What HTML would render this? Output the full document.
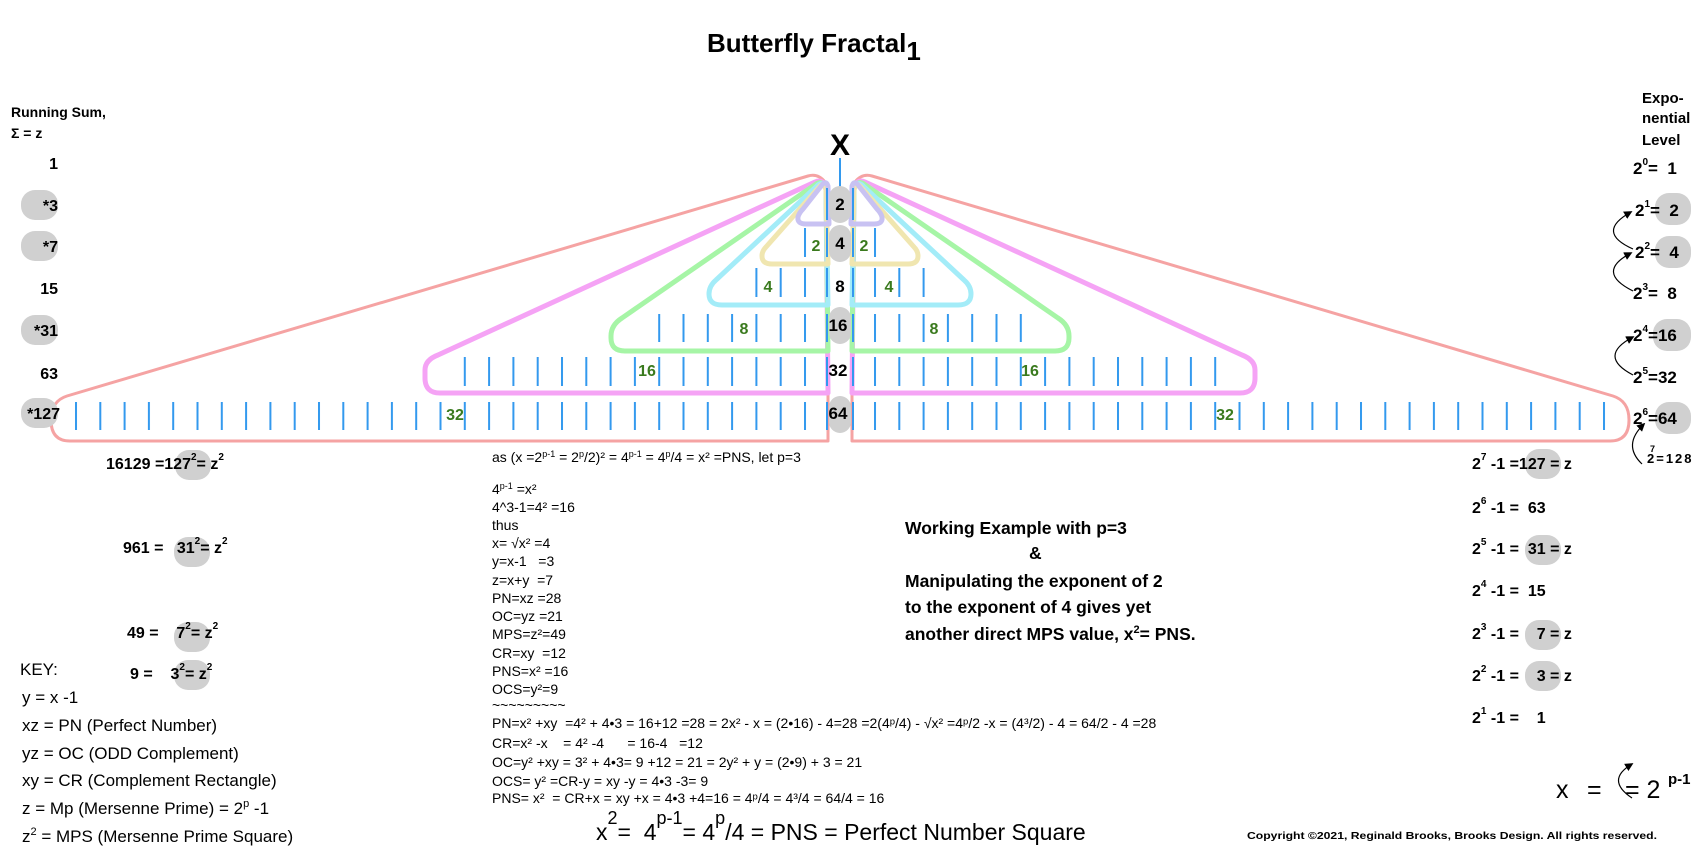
<!DOCTYPE html>
<html><head><meta charset="utf-8"><style>
html,body{margin:0;padding:0;background:#fff;}
body{width:1700px;height:850px;overflow:hidden;position:relative;}
svg{position:absolute;left:0;top:0;}
text{font-family:"Liberation Sans",sans-serif;white-space:pre;}
.b{font-weight:bold;}
</style></head><body>
<svg width="1700" height="850" viewBox="0 0 1700 850" xmlns="http://www.w3.org/2000/svg" xml:space="preserve">
<defs>
<pattern id="tl" patternUnits="userSpaceOnUse" x="803.5" y="0" width="24.3" height="850"><line x1="1.5" y1="0" x2="1.5" y2="850" stroke="#3399ee" stroke-width="2"/></pattern>
<pattern id="tr" patternUnits="userSpaceOnUse" x="873.5" y="0" width="24.3" height="850"><line x1="1.5" y1="0" x2="1.5" y2="850" stroke="#3399ee" stroke-width="2"/></pattern>
<marker id="ah" viewBox="0 0 10 10" refX="8" refY="5" markerWidth="7" markerHeight="7" orient="auto"><path d="M0,0 L10,5 L0,10 Z" fill="#000"/></marker>
</defs>

<text x="707" y="52" class="b" font-size="26">Butterfly Fractal<tspan dy="8" font-size="26">1</tspan></text>

<g fill="none" stroke-linejoin="round">
<path d="M828,441 L70,441 Q51,441 51,420 Q51,401 67,396 L808,176 Q818,173 825,182 L828,190 Z" stroke="#f5a3a3" stroke-width="3"/>
<path d="M828,393 L440,393 Q425,393 425,378 L425,370 Q425,360 438,355 L815,182 Q822,179 826,186 Z" stroke="#f5a3f5" stroke-width="5"/>
<path d="M828,351 L625,351 Q611,351 611,338 L611,336 Q611,325 622,318 L816,184 Q822,180 826,188 Z" stroke="#a6f5a6" stroke-width="5"/>
<path d="M828,305 L722,305 Q709,305 709,294 Q709,286 716,280 L818,185 Q823,181 826,188 Z" stroke="#a3ecf8" stroke-width="5"/>
<path d="M828,264 L772,264 Q762,264 762,256 Q762,251 766,247 L820,186 Q824,182 826,190 Z" stroke="#f0e6b0" stroke-width="5"/>
<path d="M829,224 L806,224 Q797,224 798,217 Q799,213 803,209 L822,185 Q826,180 828,186 Z" stroke="#c8c2f2" stroke-width="5"/>
</g>
<g fill="none" stroke-linejoin="round" transform="translate(1680,0) scale(-1,1)">
<path d="M828,441 L70,441 Q51,441 51,420 Q51,401 67,396 L808,176 Q818,173 825,182 L828,190 Z" stroke="#f5a3a3" stroke-width="3"/>
<path d="M828,393 L440,393 Q425,393 425,378 L425,370 Q425,360 438,355 L815,182 Q822,179 826,186 Z" stroke="#f5a3f5" stroke-width="5"/>
<path d="M828,351 L625,351 Q611,351 611,338 L611,336 Q611,325 622,318 L816,184 Q822,180 826,188 Z" stroke="#a6f5a6" stroke-width="5"/>
<path d="M828,305 L722,305 Q709,305 709,294 Q709,286 716,280 L818,185 Q823,181 826,188 Z" stroke="#a3ecf8" stroke-width="5"/>
<path d="M828,264 L772,264 Q762,264 762,256 Q762,251 766,247 L820,186 Q824,182 826,190 Z" stroke="#f0e6b0" stroke-width="5"/>
<path d="M829,224 L806,224 Q797,224 798,217 Q799,213 803,209 L822,185 Q826,180 828,186 Z" stroke="#c8c2f2" stroke-width="5"/>
</g>

<rect x="74" y="402" width="734" height="28" fill="url(#tl)"/>
<rect x="873" y="402" width="733" height="28" fill="url(#tr)"/>
<rect x="463" y="357" width="345" height="29" fill="url(#tl)"/>
<rect x="873" y="357" width="344" height="29" fill="url(#tr)"/>
<rect x="657" y="314" width="151" height="28" fill="url(#tl)"/>
<rect x="873" y="314" width="150" height="28" fill="url(#tr)"/>
<rect x="754" y="268" width="54" height="29" fill="url(#tl)"/>
<rect x="873" y="268" width="53" height="29" fill="url(#tr)"/>
<rect x="803" y="228" width="5" height="29" fill="url(#tl)"/>
<rect x="873" y="228" width="5" height="29" fill="url(#tr)"/>
<g stroke="#3399ee" stroke-width="2">
<line x1="827" y1="188" x2="827" y2="220"/><line x1="853" y1="188" x2="853" y2="220"/>
<line x1="827" y1="228" x2="827" y2="257"/><line x1="853" y1="228" x2="853" y2="257"/>
<line x1="827" y1="268" x2="827" y2="297"/><line x1="853" y1="268" x2="853" y2="297"/>
<line x1="827" y1="314" x2="827" y2="342"/><line x1="853" y1="314" x2="853" y2="342"/>
<line x1="827" y1="357" x2="827" y2="386"/><line x1="853" y1="357" x2="853" y2="386"/>
<line x1="827" y1="402" x2="827" y2="430"/><line x1="853" y1="402" x2="853" y2="430"/>
<line x1="840" y1="158" x2="840" y2="187"/>
</g>

<text x="840" y="155" class="b" font-size="30" text-anchor="middle">X</text>
<g fill="#d0d0d0">
<rect x="829" y="186" width="22" height="37" rx="11"/>
<rect x="829" y="225" width="22" height="37" rx="11"/>
<rect x="829" y="307" width="22" height="37" rx="11"/>
<rect x="829" y="396" width="22" height="37" rx="11"/>
</g>
<g class="b" font-size="17" text-anchor="middle" fill="#000">
<text x="840" y="210">2</text><text x="840" y="249">4</text><text x="840" y="292">8</text>
<text x="838" y="331">16</text><text x="838" y="376">32</text><text x="838" y="419">64</text>
</g>

<g class="b" font-size="16" fill="#3a7a1e" text-anchor="middle">
<text x="816" y="251">2</text><text x="864" y="251">2</text>
<text x="768" y="292">4</text><text x="889" y="292">4</text>
<text x="744" y="334">8</text><text x="934" y="334">8</text>
<text x="647" y="376">16</text><text x="1030" y="376">16</text>
<text x="455" y="420">32</text><text x="1225" y="420">32</text>
</g>

<text x="11" y="117" class="b" font-size="14">Running Sum,</text>
<text x="11" y="138" class="b" font-size="14">Σ = z</text>
<g fill="#d0d0d0">
<rect x="21" y="190" width="37" height="30" rx="14"/>
<rect x="21" y="231" width="37" height="30" rx="14"/>
<rect x="21" y="315" width="37" height="30" rx="14"/>
<rect x="21" y="398" width="37" height="30" rx="14"/>
</g>
<g class="b" font-size="16" text-anchor="end">
<text x="58" y="169">1</text><text x="58" y="211">*3</text><text x="58" y="252">*7</text>
<text x="58" y="294">15</text><text x="58" y="336">*31</text><text x="58" y="379">63</text>
<text x="60" y="419">*127</text>
</g>

<g fill="#d0d0d0">
<rect x="175" y="450" width="36" height="30" rx="14"/>
<rect x="174" y="537" width="36" height="30" rx="14"/>
<rect x="174" y="622" width="36" height="30" rx="14"/>
<rect x="174" y="660" width="36" height="30" rx="14"/>
</g>
<g class="b" font-size="16">
<text x="106" y="469">16129 =127<tspan dy="-9" font-size="10">2</tspan><tspan dy="9">= z</tspan><tspan dy="-9" font-size="10">2</tspan></text>
<text x="123" y="553">961 =   31<tspan dy="-9" font-size="10">2</tspan><tspan dy="9">= z</tspan><tspan dy="-9" font-size="10">2</tspan></text>
<text x="127" y="638">49 =    7<tspan dy="-9" font-size="10">2</tspan><tspan dy="9">= z</tspan><tspan dy="-9" font-size="10">2</tspan></text>
<text x="130" y="679">9 =    3<tspan dy="-9" font-size="10">2</tspan><tspan dy="9">= z</tspan><tspan dy="-9" font-size="10">2</tspan></text>
</g>

<g font-size="17">
<text x="20" y="675">KEY:</text>
<text x="22" y="703">y = x -1</text>
<text x="22" y="731">xz = PN (Perfect Number)</text>
<text x="22" y="759">yz = OC (ODD Complement)</text>
<text x="22" y="786">xy = CR (Complement Rectangle)</text>
<text x="22" y="814">z = Mp (Mersenne Prime) = 2<tspan dy="-7" font-size="11">p</tspan><tspan dy="7"> -1</tspan></text>
<text x="22" y="842">z<tspan dy="-7" font-size="11">2</tspan><tspan dy="7"> = MPS (Mersenne Prime Square)</tspan></text>
</g>

<g font-size="14">
<text x="492" y="462">as (x =2<tspan dy="-5" font-size="9">p-1</tspan><tspan dy="5"> = 2</tspan><tspan dy="-5" font-size="9">p</tspan><tspan dy="5">/2)² = 4</tspan><tspan dy="-5" font-size="9">p-1</tspan><tspan dy="5"> = 4</tspan><tspan dy="-5" font-size="9">p</tspan><tspan dy="5">/4 = x² =PNS, let p=3</tspan></text>
<text x="492" y="494">4<tspan dy="-5" font-size="9">p-1</tspan><tspan dy="5"> =x²</tspan></text>
<text x="492" y="512">4^3-1=4² =16</text>
<text x="492" y="530">thus</text>
<text x="492" y="548">x= √x² =4</text>
<text x="492" y="566">y=x-1   =3</text>
<text x="492" y="585">z=x+y  =7</text>
<text x="492" y="603">PN=xz =28</text>
<text x="492" y="621">OC=yz =21</text>
<text x="492" y="639">MPS=z²=49</text>
<text x="492" y="658">CR=xy  =12</text>
<text x="492" y="676">PNS=x² =16</text>
<text x="492" y="694">OCS=y²=9</text>
<text x="492" y="710">~~~~~~~~~</text>
<text x="492" y="728">PN=x² +xy  =4² + 4•3 = 16+12 =28 = 2x² - x = (2•16) - 4=28 =2(4ᵖ/4) - √x² =4ᵖ/2 -x = (4³/2) - 4 = 64/2 - 4 =28</text>
<text x="492" y="748">CR=x² -x    = 4² -4      = 16-4   =12</text>
<text x="492" y="767">OC=y² +xy = 3² + 4•3= 9 +12 = 21 = 2y² + y = (2•9) + 3 = 21</text>
<text x="492" y="786">OCS= y² =CR-y = xy -y = 4•3 -3= 9</text>
<text x="492" y="803">PNS= x²  = CR+x = xy +x = 4•3 +4=16 = 4ᵖ/4 = 4³/4 = 64/4 = 16</text>
</g>

<text x="596" y="840" font-size="23">x<tspan dy="-16" font-size="18">2</tspan><tspan dy="16">=  4</tspan><tspan dy="-16" font-size="18">p-1</tspan><tspan dy="16">= 4</tspan><tspan dy="-16" font-size="18">p</tspan><tspan dy="16">/4 = PNS = Perfect Number Square</tspan></text>

<g class="b" font-size="17.5">
<text x="905" y="534">Working Example with p=3</text>
<text x="1029" y="559">&amp;</text>
<text x="905" y="587">Manipulating the exponent of 2</text>
<text x="905" y="613">to the exponent of 4 gives yet</text>
<text x="905" y="640">another direct MPS value, x<tspan dy="-7" font-size="11">2</tspan><tspan dy="7">= PNS.</tspan></text>
</g>

<g class="b" font-size="15">
<text x="1642" y="103">Expo-</text>
<text x="1642" y="123">nential</text>
<text x="1642" y="145">Level</text>
</g>
<g fill="#d0d0d0">
<rect x="1655" y="193" width="36" height="32" rx="14"/>
<rect x="1655" y="236" width="36" height="32" rx="14"/>
<rect x="1653" y="319" width="38" height="32" rx="14"/>
<rect x="1655" y="402" width="36" height="32" rx="14"/>
</g>
<g class="b" font-size="17">
<text x="1633" y="174">2<tspan dy="-9" font-size="10">0</tspan><tspan dy="9">=  1</tspan></text>
<text x="1635" y="216">2<tspan dy="-9" font-size="10">1</tspan><tspan dy="9">=  2</tspan></text>
<text x="1635" y="258">2<tspan dy="-9" font-size="10">2</tspan><tspan dy="9">=  4</tspan></text>
<text x="1633" y="299">2<tspan dy="-9" font-size="10">3</tspan><tspan dy="9">=  8</tspan></text>
<text x="1633" y="341">2<tspan dy="-9" font-size="10">4</tspan><tspan dy="9">=16</tspan></text>
<text x="1633" y="383">2<tspan dy="-9" font-size="10">5</tspan><tspan dy="9">=32</tspan></text>
<text x="1633" y="424">2<tspan dy="-9" font-size="10">6</tspan><tspan dy="9">=64</tspan></text>
</g>
<text x="1647" y="463" class="b" font-size="13" letter-spacing="2">2=128</text>
<text x="1650" y="452" class="b" font-size="9">7</text>
<g fill="none" stroke="#000" stroke-width="1.2" marker-end="url(#ah)">
<path d="M1633,249 Q1595,232 1631,212"/>
<path d="M1633,291 Q1595,272 1631,253"/>
<path d="M1633,375 Q1597,356 1633,337"/>
<path d="M1642,464 Q1622,445 1644,424"/>
</g>

<g fill="#d0d0d0">
<rect x="1525" y="449" width="36" height="30" rx="14"/>
<rect x="1525" y="535" width="36" height="30" rx="14"/>
<rect x="1525" y="620" width="36" height="30" rx="14"/>
<rect x="1525" y="661" width="36" height="30" rx="14"/>
</g>
<g class="b" font-size="16">
<text x="1472" y="469">2<tspan dy="-9" font-size="10">7</tspan><tspan dy="9"> -1 =127 = z</tspan></text>
<text x="1472" y="513">2<tspan dy="-9" font-size="10">6</tspan><tspan dy="9"> -1 =  63</tspan></text>
<text x="1472" y="554">2<tspan dy="-9" font-size="10">5</tspan><tspan dy="9"> -1 =  31 = z</tspan></text>
<text x="1472" y="596">2<tspan dy="-9" font-size="10">4</tspan><tspan dy="9"> -1 =  15</tspan></text>
<text x="1472" y="639">2<tspan dy="-9" font-size="10">3</tspan><tspan dy="9"> -1 =    7 = z</tspan></text>
<text x="1472" y="681">2<tspan dy="-9" font-size="10">2</tspan><tspan dy="9"> -1 =    3 = z</tspan></text>
<text x="1472" y="723">2<tspan dy="-9" font-size="10">1</tspan><tspan dy="9"> -1 =    1</tspan></text>
</g>

<text x="1556" y="798" font-size="25">x</text>
<text x="1587" y="798" font-size="25">=</text>
<text x="1625" y="798" font-size="25">= 2</text>
<text x="1668" y="784" class="b" font-size="15">p-1</text>
<path d="M1632,798 Q1605,780 1632,764" fill="none" stroke="#000" stroke-width="1.2" marker-end="url(#ah)"/>

<text x="1247" y="839" class="b" font-size="10.5" textLength="410" lengthAdjust="spacingAndGlyphs">Copyright ©2021, Reginald Brooks, Brooks Design. All rights reserved.</text>
</svg>
</body></html>
